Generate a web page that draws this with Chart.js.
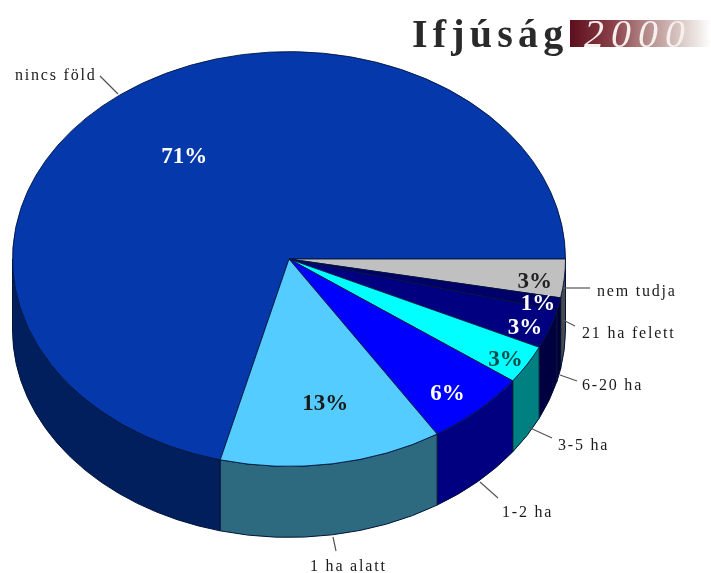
<!DOCTYPE html>
<html><head><meta charset="utf-8">
<style>html,body{margin:0;padding:0;background:#fff;overflow:hidden}canvas{display:block}</style>
<script src="https://cdn.jsdelivr.net/npm/chart.js@4/dist/chart.umd.min.js"></script>
</head><body>
<canvas id="c" width="711" height="573"></canvas>
<script>
const categories = ["nincs föld","nem tudja","21 ha felett","6-20 ha","3-5 ha","1-2 ha","1 ha alatt"];
const shares = [71,3,1,3,3,6,13];
const valueLabels = ["71%","3%","1%","3%","3%","6%","13%"];
const topColors = ["#0538ab","#c0c0c0","#000068","#000080","#00ffff","#0000ff","#55ccff"];
const sideColors = ["#001f5c","#4a4a4a","#000034","#000040","#008080","#000080","#2d6a80"];
const valueTextColors = ["#ffffff","#222222","#ffffff","#ffffff","#064a4a","#ffffff","#1a1a1a"];
const valueOffsets = [[14,13],[53,9],[60,13],[54,20],[50,27],[26,29],[6,2]];
const nameAnchors = [[15,76],[597,292],[582,334],[582,386],[558,446],[502,513],[310,567]];
const leaders = [[118,94,100,76],[563,288,590,288],[563,320,575,326],[560,375,577,381],[528,427,552,438],[480,482,498,498],[333,537,336,551]];

const CY = 259, SQUASH = 0.75, DEPTH = 71, TAU = Math.PI*2;

const pie3d = {
  id:'pie3d',
  beforeDatasetsDraw(chart){
    const ctx = chart.ctx, arcs = chart.getDatasetMeta(0).data;
    arcs.forEach((a,i)=>{
      let s = a.startAngle, e = a.endAngle;
      while (s >= TAU){ s -= TAU; e -= TAU; }
      const from = Math.max(s,0), to = Math.min(e,Math.PI);
      if (to <= from) return;
      const rx = a.outerRadius, ry = rx*SQUASH;
      ctx.beginPath();
      ctx.ellipse(a.x,CY,rx,ry,0,from,to,false);
      ctx.ellipse(a.x,CY+DEPTH,rx,ry,0,to,from,true);
      ctx.closePath();
      ctx.fillStyle = sideColors[i];
      ctx.fill();
      ctx.lineWidth = 1;
      ctx.strokeStyle = '#00143c';
      ctx.stroke();
    });
    ctx.save();
    ctx.translate(0,CY);
    ctx.scale(1,SQUASH);
    ctx.translate(0,-arcs[0].y);
  },
  afterDatasetsDraw(chart){
    const ctx = chart.ctx, arcs = chart.getDatasetMeta(0).data;
    ctx.restore();
    ctx.textBaseline = 'middle';
    ctx.textAlign = 'center';
    ctx.font = 'bold 23px "Liberation Serif"';
    arcs.forEach((a,i)=>{
      const mid = (a.startAngle+a.endAngle)/2, r = a.outerRadius*0.7;
      ctx.fillStyle = valueTextColors[i];
      ctx.fillText(valueLabels[i],
        a.x+r*Math.cos(mid)+valueOffsets[i][0],
        CY+r*SQUASH*Math.sin(mid)+valueOffsets[i][1]);
    });
    ctx.strokeStyle = '#555';
    ctx.lineWidth = 1.2;
    leaders.forEach(l=>{ctx.beginPath();ctx.moveTo(l[0],l[1]);ctx.lineTo(l[2],l[3]);ctx.stroke();});
    ctx.fillStyle = '#1a1a1a';
    ctx.font = '16px "Liberation Serif"';
    ctx.letterSpacing = '1.8px';
    ctx.textAlign = 'left';
    categories.forEach((c,i)=>{
      ctx.fillText(c,nameAnchors[i][0],nameAnchors[i][1]);
    });
    // brand header
    const g = ctx.createLinearGradient(570,0,711,0);
    g.addColorStop(0,'#5c0f1c');g.addColorStop(0.3,'#8a4048');g.addColorStop(0.55,'#b58c8c');g.addColorStop(0.8,'#dccdc8');g.addColorStop(1,'#ffffff');
    ctx.fillStyle = g;
    ctx.fillRect(570,20,141,27);
    ctx.textBaseline = 'alphabetic';
    ctx.fillStyle = '#2a2a2a';
    ctx.font = 'bold 40px "Liberation Serif"';
    ctx.letterSpacing = '5.2px';
    ctx.fillText('Ifjúság',412,47);
    ctx.fillStyle = '#f7eeee';
    ctx.font = 'italic 40px "Liberation Serif"';
    ctx.letterSpacing = '7px';
    ctx.fillText('2000',584,47);
    ctx.letterSpacing = '0px';
  }
};

new Chart(document.getElementById('c'),{
  type:'pie',
  data:{labels:categories,datasets:[{data:shares,backgroundColor:topColors,borderColor:'#00143c',borderWidth:1,clip:false}]},
  options:{
    responsive:false,animation:false,rotation:194.4,
    layout:{padding:{left:12,right:145,top:0,bottom:19}},
    plugins:{legend:{display:false},tooltip:{enabled:false}}
  },
  plugins:[pie3d]
});
</script>
</body></html>
